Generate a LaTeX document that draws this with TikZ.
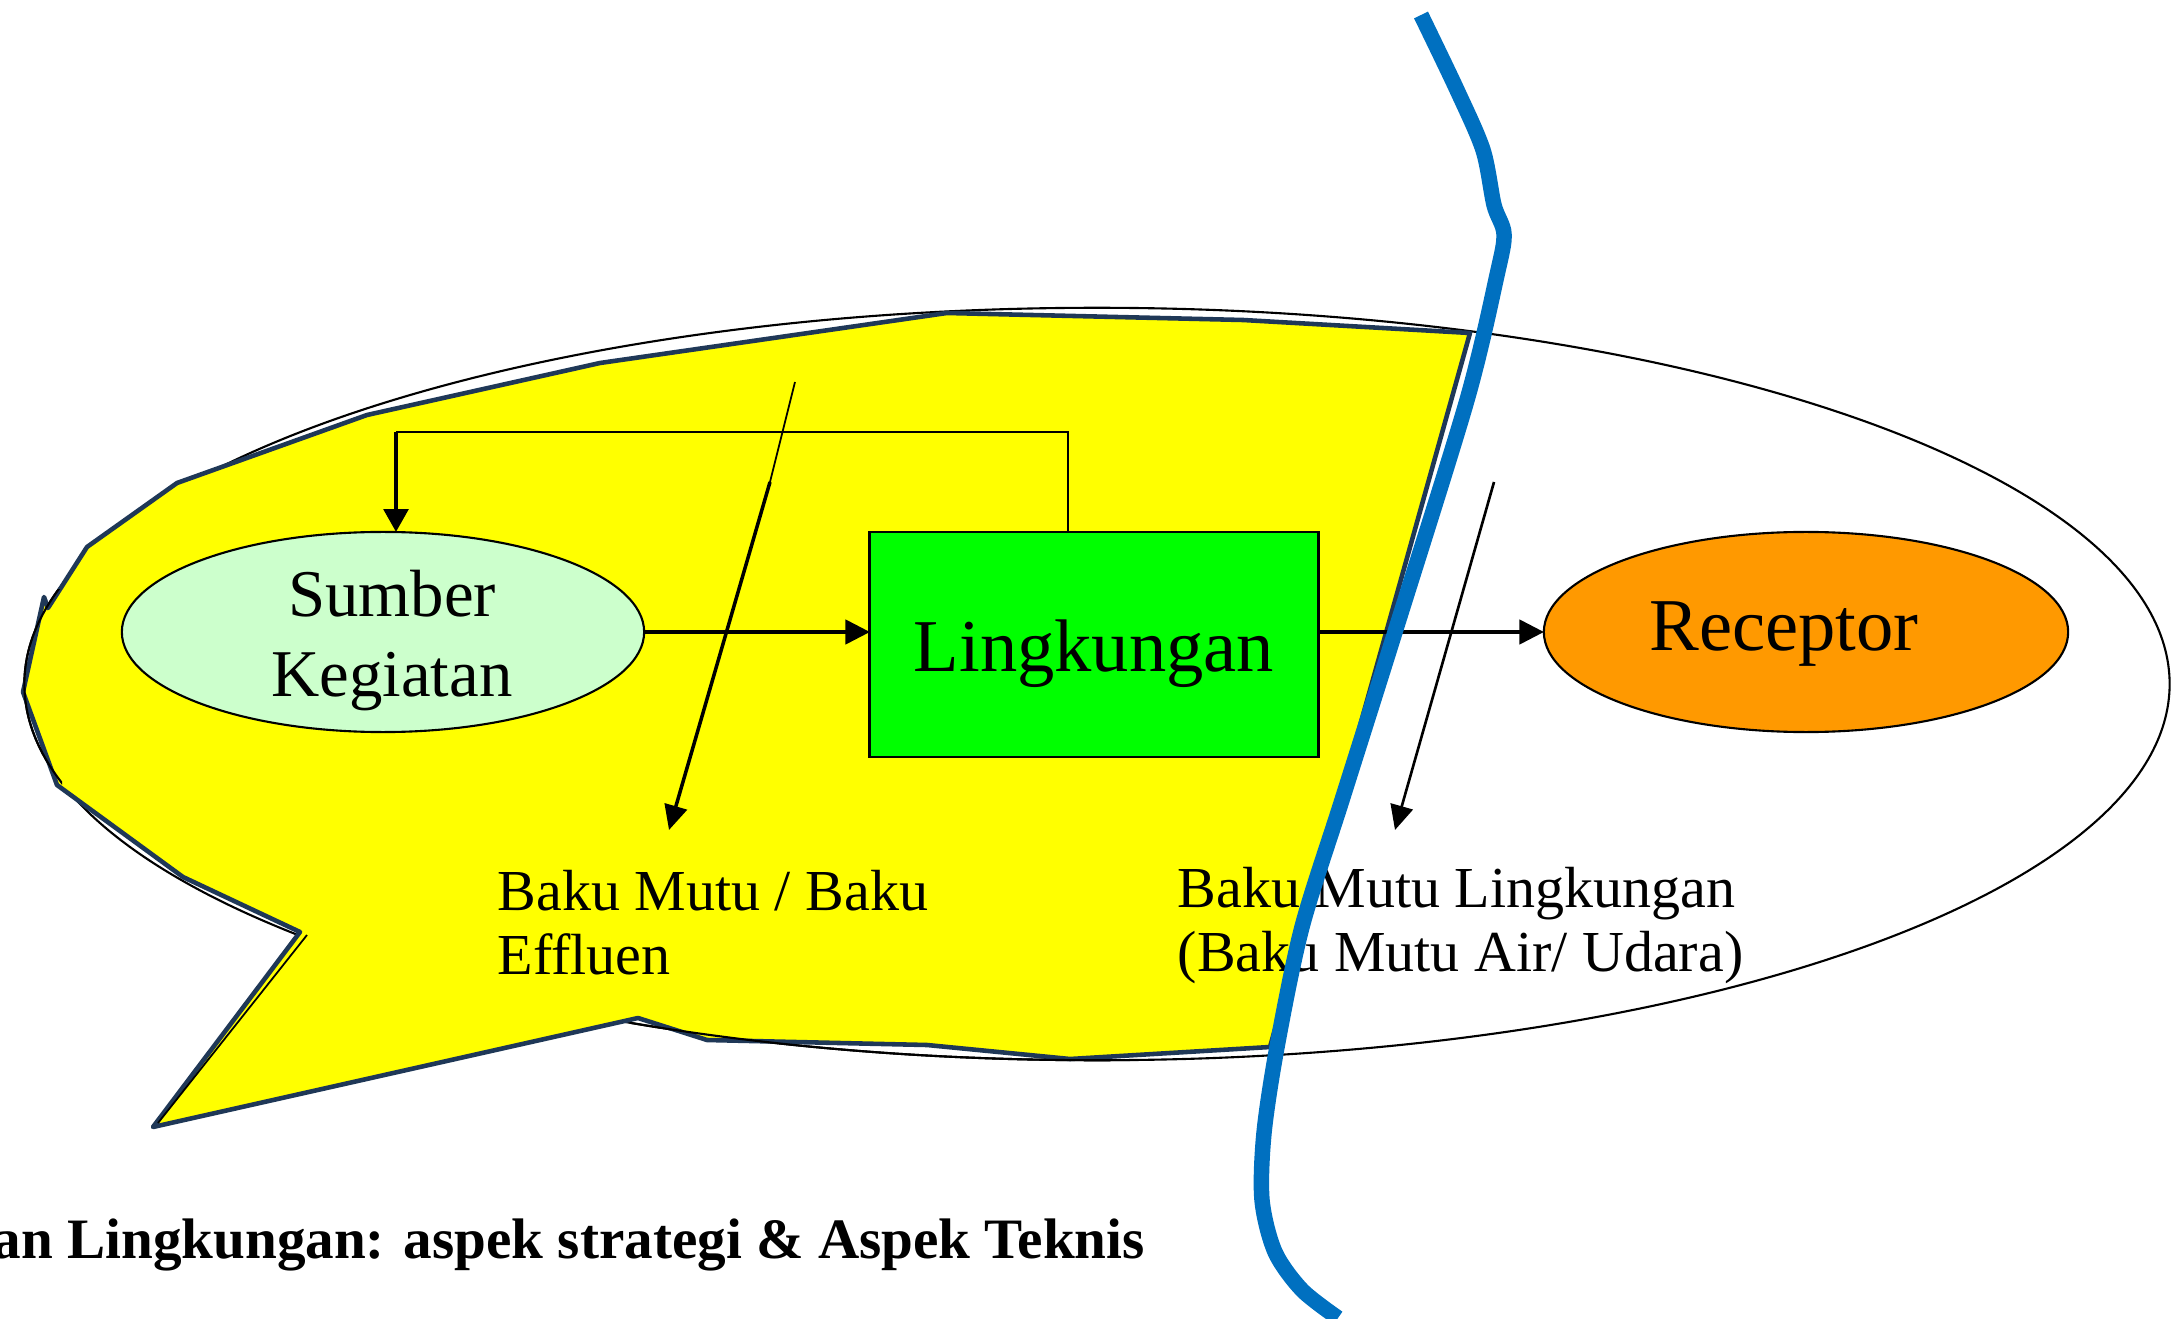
\documentclass[tikz,border=0pt]{standalone}
\usepackage{fontspec}
\setmainfont{Liberation Serif}
\usetikzlibrary{arrows.meta,shapes.geometric}

\definecolor{calloutyellow}{HTML}{FFFF00}
\definecolor{calloutedge}{HTML}{1F3857}
\definecolor{sourcefill}{HTML}{CCFFCC}
\definecolor{envfill}{HTML}{00FF00}
\definecolor{receptorfill}{HTML}{FF9900}
\definecolor{divider}{HTML}{0070C0}

\begin{document}
\begin{tikzpicture}[x=0.01cm,y=-0.01cm,
  shapebox/.style={draw=black,line width=0.6pt,inner sep=0pt,outer sep=0pt},
  flow/.style={draw=black,line width=0.9pt,-{Triangle[length=7pt,width=7pt]}},
  labeltext/.style={font=\fontsize{16.5pt}{18.2pt}\selectfont,align=left,inner sep=0pt},
  bigtext/.style={font=\fontsize{21.2pt}{25pt}\selectfont,inner sep=0pt},
  boundary/.style={line width=0.6pt},
]
\useasboundingbox (0,0) rectangle (2173,1319);
\clip (0,0) rectangle (2173,1319);

% outer system boundary (behind the bubble)
\draw[boundary] (1097,684) ellipse [x radius=10.72cm, y radius=3.76cm];

% speech bubble around the source side
\draw[fill=calloutyellow, draw=calloutedge, line width=1.3pt, line join=round]
  (23,692) -- (44,597) -- (48,608) -- (87,547) -- (177,483) -- (367,415)
  -- (600,363) -- (947,313) -- (1243,320) -- (1470,333) -- (1270,1047)
  -- (1070,1059) -- (927,1045) -- (707,1040) -- (638,1018) -- (153,1127)
  -- (300,932) -- (183,877) -- (57,785) -- cycle;
\draw[line width=0.5pt] (307,935) -- (158,1123);

% parts of the boundary that show over the bubble edge
\begin{scope}
  \clip (630,990) rectangle (1130,1080);
  \draw[boundary] (1097,684) ellipse [x radius=10.72cm, y radius=3.76cm];
\end{scope}
\begin{scope}
  \clip (0,590) rectangle (62,790);
  \draw[boundary] (1097,684) ellipse [x radius=10.72cm, y radius=3.76cm];
\end{scope}

% main blocks
\node[shapebox, ellipse, fill=sourcefill, minimum width=5.22cm, minimum height=2cm] (sumber) at (383,632) {};
\node[shapebox, rectangle, fill=envfill, line width=0.8pt, minimum width=4.48cm, minimum height=2.25cm] (ling) at (1094,644.5) {};
\node[shapebox, ellipse, fill=receptorfill, minimum width=5.24cm, minimum height=2cm] (receptor) at (1806,632) {};

\node[font=\fontsize{19pt}{22.8pt}\selectfont, align=center, inner sep=0pt, anchor=north] (sumbertext) at (392,569) {Sumber\\Kegiatan};
\node[bigtext, anchor=base] (lingtext) at (1094,672) {Lingkungan};
\node[bigtext, anchor=base] (receptortext) at (1784,650) {Receptor};

% main flow
\draw[flow] (sumber.east) -- (sumber.east -| ling.west);
\draw[flow] (ling.east |- receptor.west) -- (receptor.west);

% feedback loop
\coordinate (fbright) at (1068,432);
\coordinate (fbleft) at (396,432);
\draw[line width=0.45pt] (fbright |- ling.north) -- (fbright) -- (fbleft);
\draw[line width=1.1pt, -{Triangle[length=6.5pt,width=7pt]}] (fbleft) -- (fbleft |- sumber.north);

% standard pointers
\coordinate (d1top) at (795,382);
\coordinate (d1mid) at (770,482);
\coordinate (d1tip) at (669,830);
\draw[line width=0.5pt] (d1top) -- (d1mid);
\draw[line width=1pt, -{Triangle[length=7pt,width=6.5pt]}] (d1mid) -- (d1tip);
\coordinate (d2top) at (1494,482);
\coordinate (d2tip) at (1395,830);
\draw[line width=0.75pt, -{Triangle[length=7pt,width=6.5pt]}] (d2top) -- (d2tip);

\node[labeltext, anchor=north west] (effluent) at (497,870) {Baku Mutu / Baku\\Effluen};
\node[labeltext, anchor=north west] (ambient) at (1177,867) {Baku Mutu Lingkungan\\(Baku Mutu Air/ Udara)};

\node[font=\fontsize{16.25pt}{19pt}\selectfont\bfseries, anchor=base west, inner sep=0pt] (title) at (-8,1258) {an Lingkungan: aspek strategi \& Aspek Teknis};

% dividing line
\draw[divider, line width=4.4pt, line cap=butt, line join=round]
  plot[smooth, tension=0.5] coordinates {(1421,15) (1457,90) (1483,150) (1494,205) (1504,234) (1497,275) (1467,400) (1395,632) (1342,800) (1302,927) (1277,1047) (1264,1133) (1262,1200) (1275,1252) (1302,1290) (1338,1318)};
\end{tikzpicture}
\end{document}
